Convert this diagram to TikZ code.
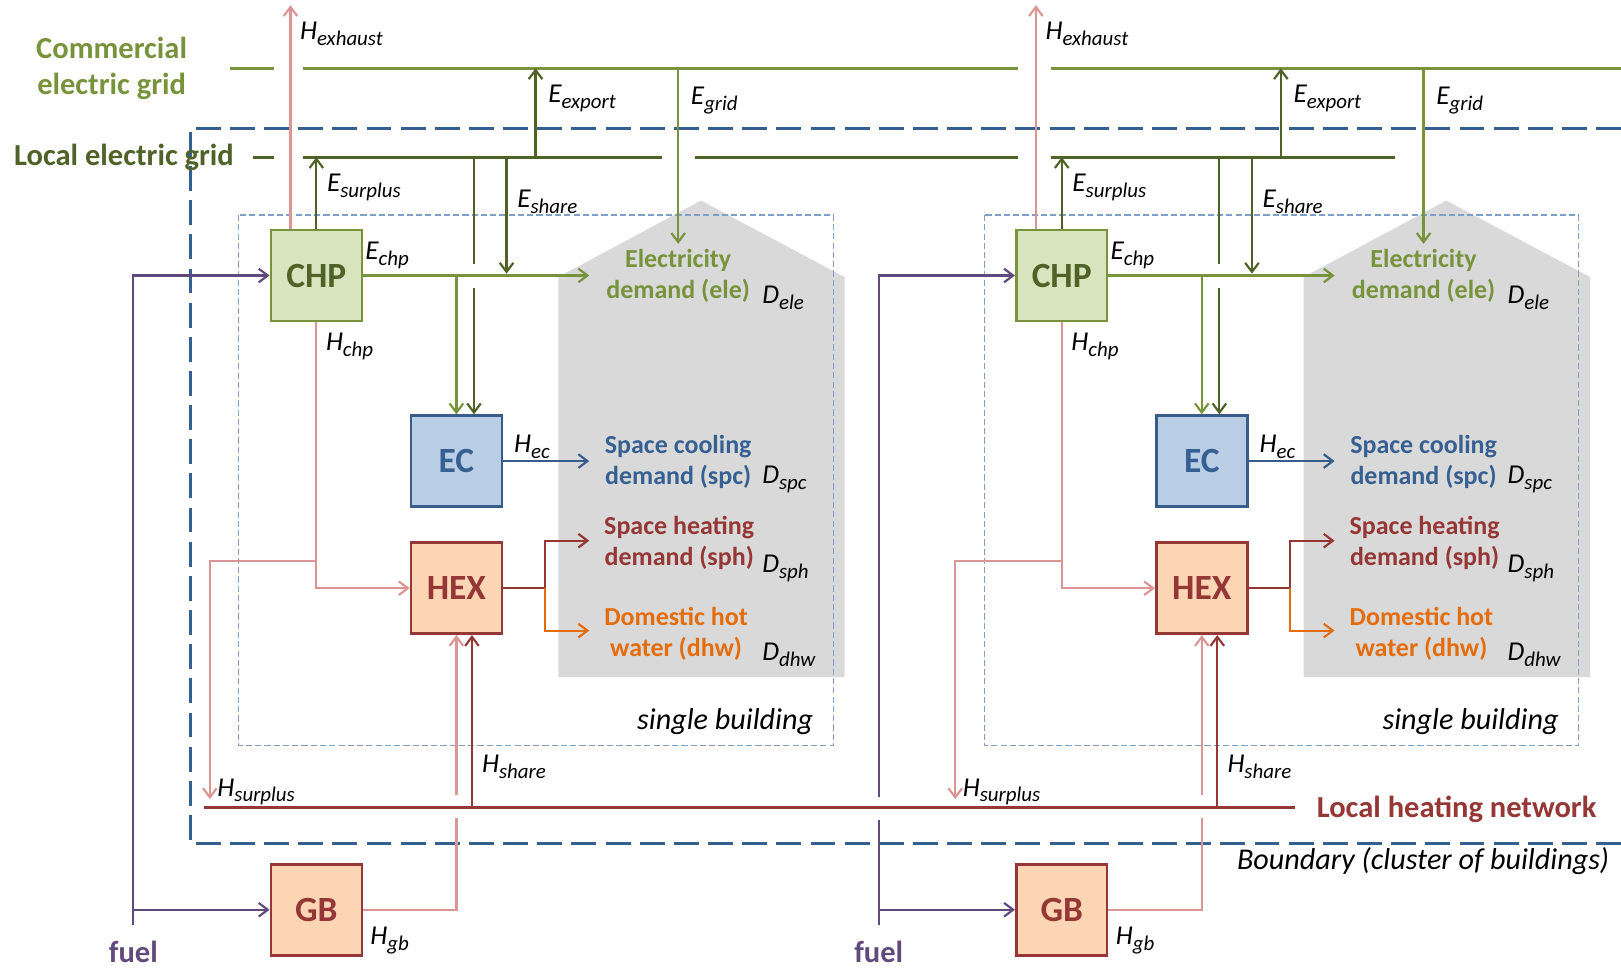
\documentclass[tikz,border=0pt]{standalone}
\usepackage{fontspec}
\setmainfont{Carlito}
\usetikzlibrary{arrows.meta,calc}
\definecolor{elight}{HTML}{77933C}\definecolor{edark}{HTML}{4F6228}\definecolor{chpfill}{HTML}{D7E4BD}
\definecolor{ecfill}{HTML}{B9CDE5}\definecolor{ecline}{HTML}{385D8A}\definecolor{ectext}{HTML}{376092}
\definecolor{hexfill}{HTML}{FCD5B5}\definecolor{hdark}{HTML}{953735}\definecolor{hpink}{HTML}{D99694}
\definecolor{dhwcol}{HTML}{E46C0A}\definecolor{fuelcol}{HTML}{604A7B}\definecolor{boundcol}{HTML}{376092}
\definecolor{bldgcol}{HTML}{7F9FCB}\definecolor{housecol}{HTML}{D9D9D9}
\newcommand{\fl}[2]{#1\raisebox{-.45ex}{\fontsize{11.5}{13}\selectfont #2}}
\tikzset{>={Straight Barb[length=5pt,width=7.5pt]},
unit/.style={draw,line width=1.4pt,minimum width=17.6mm,minimum height=17.6mm,inner sep=0pt,font=\fontsize{19.5}{22}\selectfont\bfseries},
demand/.style={align=center,inner sep=0pt,font=\fontsize{14.3}{16.8}\selectfont\bfseries},
flowlbl/.style={anchor=west,inner sep=0pt,font=\fontsize{15}{17}\selectfont\itshape},
note/.style={anchor=east,inner sep=0pt,font=\fontsize{16.6}{19}\selectfont\itshape},
gridlbl/.style={align=center,inner sep=0pt,font=\fontsize{16.8}{20}\selectfont\bfseries},
elec/.style={line width=1.2pt,draw=elight},eshare/.style={line width=1.2pt,draw=edark},
heat/.style={line width=1.2pt,draw=hpink},heatdark/.style={line width=1.2pt,draw=hdark},
fuelline/.style={line width=1.2pt,draw=fuelcol}}

\begin{document}
\begin{tikzpicture}[x=.2mm,y=-.2mm]
\useasboundingbox (0,0) rectangle (1568,936);
\draw[boundcol,line width=1.7pt,dash pattern=on 13.7pt off 5.1pt] (1568,124) -| (184,816) -- (1568,816);
\coordinate (cg) at (0,66);\coordinate (lg) at (0,152);\coordinate (hn) at (0,781);
% grids
\node[gridlbl,text=elight] (cgl) at (108,66) {Commercial\\electric grid};
\node[gridlbl,text=edark] (lgl) at (120,152) {Local electric grid};
\draw[elight,line width=1.6pt] (222,66) -- (265,66) (293,66) -- (985,66) (1017,66) -- (1568,66);
\draw[edark,line width=1.7pt] (245,152) -- (265,152) (293,152) -- (640,152) (672,152) -- (985,152) (1017,152) -- (1349,152);
% two buildings
\foreach \bl/\dx in {l/0,r/721}{
\begin{scope}[shift={(\dx,0)}]
\fill[housecol] (540,655) -- (540,268) -- (678,194) -- (817,268) -- (817,655) -- cycle;
\draw[bldgcol,line width=.6pt,dash pattern=on 3.4pt off 1.7pt] (231,208) rectangle (806,721);
\node[note] (sb\bl) at (787,698) {single building};
\node[unit,fill=chpfill,draw=elight,text=edark] (chp\bl) at (306,266.5) {CHP};
\node[unit,fill=ecfill,draw=ecline,text=ectext] (ec\bl) at (441.5,446) {EC};
\node[unit,fill=hexfill,draw=hdark,text=hdark] (hex\bl) at (441.5,569) {HEX};
\node[unit,fill=hexfill,draw=hdark,text=hdark] (gb\bl) at (306,880) {GB};
\node[demand,text=elight] (ele\bl) at (656,267) {Electricity\\demand (ele)};
\node[demand,text=ectext] (spc\bl) at (656,447) {Space cooling\\demand (spc)};
\node[demand,text=hdark] (sph\bl) at (657,525) {Space heating\\demand (sph)};
\node[demand,text=dhwcol] (dhw\bl) at (654,613) {Domestic hot\\water (dhw)};
\node[gridlbl,text=fuelcol] (fuel\bl) at (129,921) {fuel};
\coordinate (tip\bl) at (570,0);\coordinate (hj\bl) at (527,0);
\coordinate (exh\bl) at (281,5);\coordinate (exp\bl) at (518,152);\coordinate (sh\bl) at (490,152);
\coordinate (ecd\bl) at ($(ec\bl.north)+(17,0)$);\coordinate (hs\bl) at ($(hex\bl.south)+(15,0)$);
\coordinate (hsplit\bl) at (chp\bl.south |- 0,543);\coordinate (hsur\bl) at (203,773);
% electricity
\draw[heat,->] (chp\bl.north -| exh\bl) -- (exh\bl);
\draw[eshare,->] (chp\bl.north) -- (chp\bl.north |- lg);
\draw[eshare,->] (exp\bl) -- (exp\bl |- cg);
\draw[elec,->] (ele\bl.north |- cg) -- ([yshift=3pt]ele\bl.north);
\draw[eshare,->] (sh\bl) -- ([yshift=1pt]sh\bl |- chp\bl.east);
\draw[eshare] (ecd\bl |- lg) -- ($(ecd\bl |- chp\bl.east)+(0,-11)$);
\draw[eshare,->] ($(ecd\bl |- chp\bl.east)+(0,12)$) -- (ecd\bl);
\draw[elec,->] (chp\bl.east) -- (chp\bl.east -| tip\bl);
\draw[elec,->] (ec\bl.north |- chp\bl.east) -- (ec\bl.north);
% heat and cooling
\draw[ecline,line width=1.2pt,->] (ec\bl.east) -- (ec\bl.east -| tip\bl);
\draw[heat,->] (chp\bl.south) |- (hex\bl.west);
\draw[heat,->] (hsplit\bl) -| (hsur\bl);
\draw[heatdark,->] (hex\bl.east) -- (hex\bl.east -| hj\bl) |- (tip\bl |- 0,523);
\draw[dhwcol,line width=1.2pt,->] (hex\bl.east -| hj\bl) |- (tip\bl |- 0,610);
\draw[heat] (gb\bl.east) -| ($(hex\bl.south)+(0,177)$);
\draw[heat,->] ($(hex\bl.south)+(0,155)$) -- (hex\bl.south);
\draw[heatdark,->] (hs\bl |- hn) -- (hs\bl);
% labels
\node[flowlbl] (lexh\bl) at (290,33) {\fl{H}{exhaust}};
\node[flowlbl] (lsur\bl) at (316,181) {\fl{E}{surplus}};
\node[flowlbl] (lexp\bl) at (530,95) {\fl{E}{export}};
\node[flowlbl] (lgrd\bl) at (668,97) {\fl{E}{grid}};
\node[flowlbl] (lsh\bl) at (500,195) {\fl{E}{share}};
\node[flowlbl] (lechp\bl) at (353,247) {\fl{E}{chp}};
\node[flowlbl] (lhchp\bl) at (315,335) {\fl{H}{chp}};
\node[flowlbl] (lhec\bl) at (497,432) {\fl{H}{ec}};
\node[flowlbl] (ldele\bl) at (737,288) {\fl{D}{ele}};
\node[flowlbl] (ldspc\bl) at (737,464) {\fl{D}{spc}};
\node[flowlbl] (ldsph\bl) at (737,550) {\fl{D}{sph}};
\node[flowlbl] (lddhw\bl) at (737,633) {\fl{D}{dhw}};
\node[flowlbl] (lhsur\bl) at (210,766) {\fl{H}{surplus}};
\node[flowlbl] (lhsh\bl) at (466,742) {\fl{H}{share}};
\node[flowlbl] (lhgb\bl) at (358,910) {\fl{H}{gb}};
\end{scope}}
% fuel
\coordinate (fendl) at (129,895);\coordinate (fendr) at (850,895);
\draw[fuelline,->] (fendl) |- (chpl.west);\draw[fuelline,->] (fendl |- gbl.west) -- (gbl.west);
\draw[fuelline] (fendr) -- ($(fendr)+(0,-102)$);\draw[fuelline,->] ($(fendr)+(0,-124)$) |- (chpr.west);
\draw[fuelline,->] (fendr |- gbr.west) -- (gbr.west);
% heating network
\coordinate (hnw) at (197,781);\coordinate (hne) at (1253,781);
\node[gridlbl,text=hdark] (lhn) at (1409,783) {Local heating network};
\draw[hdark,line width=1.7pt] (hnw) -- (hne);
\node[note] (bnd) at (1557,833) {Boundary (cluster of buildings)};
\end{tikzpicture}
\end{document}
